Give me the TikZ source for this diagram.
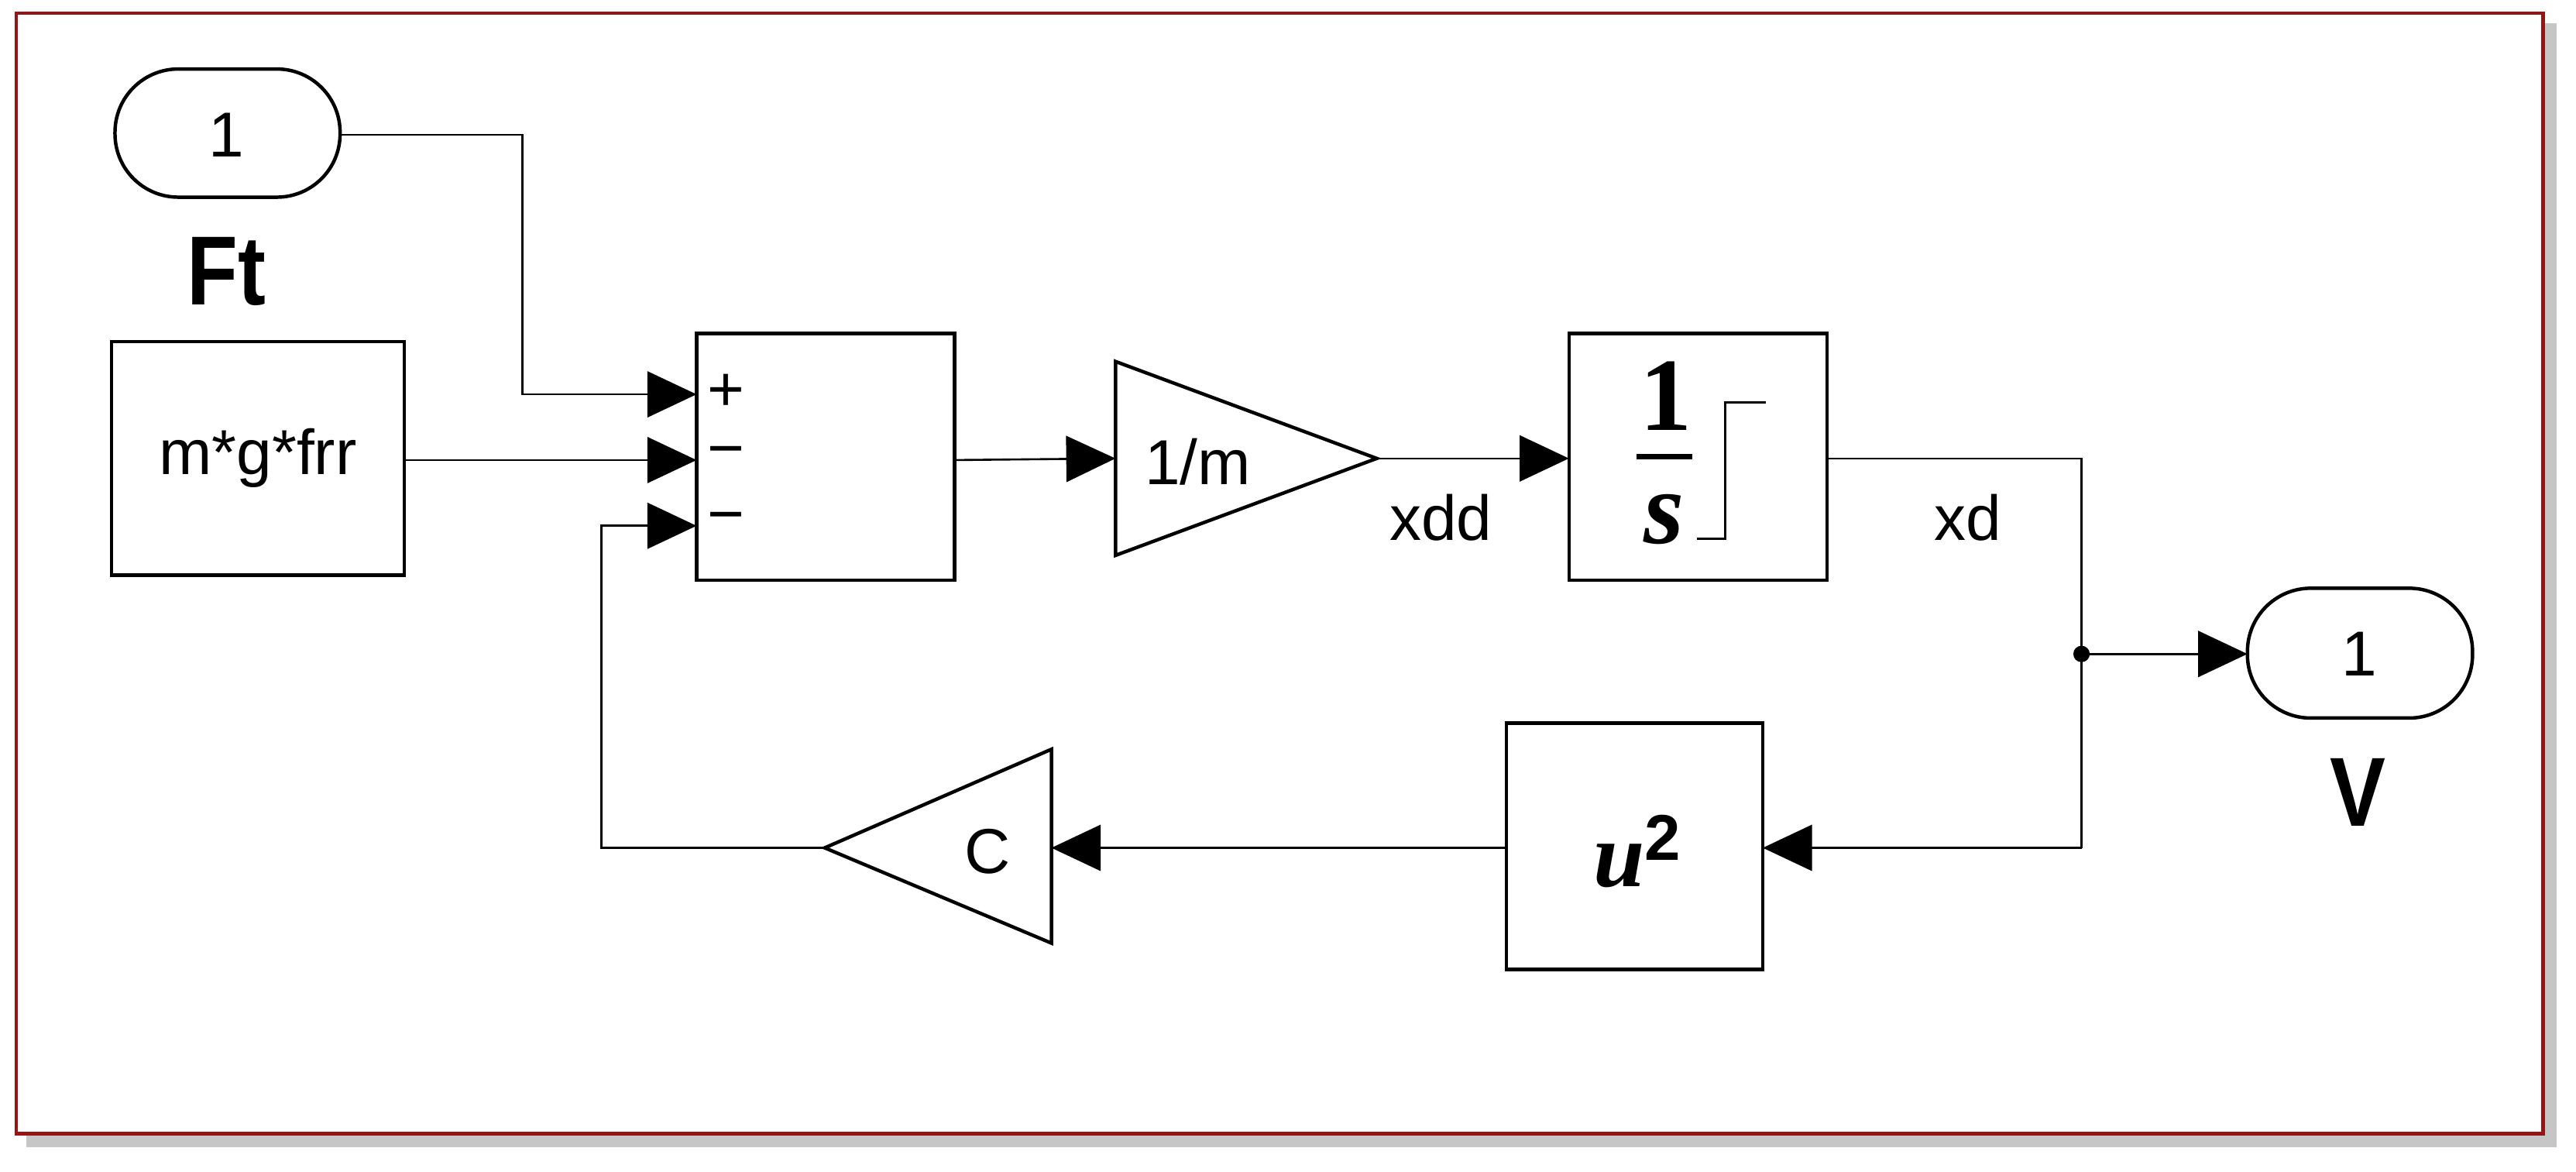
\documentclass[tikz,border=0pt]{standalone}
\usepackage{fontspec}
\setmainfont{Liberation Sans}
\newfontfamily\serifF{Liberation Serif}
\usetikzlibrary{arrows.meta}
\definecolor{frame}{RGB}{150,20,20}
\begin{document}
\begin{tikzpicture}[x=0.02cm,y=-0.02cm,
  blk/.style={draw,line width=1.2pt,inner sep=0},
  pill/.style={draw,line width=1.2pt,rounded corners=0.77cm},
  txt/.style={font=\fontsize{22}{26}\selectfont},
  big/.style={font=\fontsize{34}{38}\selectfont\bfseries},
  sig/.style={line width=0.7pt,-{Triangle[length=0.6cm,width=0.56cm]}},
  wire/.style={line width=0.7pt}]
\useasboundingbox (0,0) rectangle (1568,713);
\fill[white] (0,0) rectangle (1568,713);
% frame with shadow
\fill[gray!45] (16,14) rectangle (1556,698);
\draw[frame,fill=white,line width=1.2pt] (10,8) rectangle (1548,690);
% inport
\draw[pill] (70,42) rectangle (207,120);
\node[txt] (in1) at (138,82) {1};
\coordinate (in1r) at (207,82);
\node[big,xscale=0.85] (ft) at (138,165) {Ft};
% constant
\draw[blk] (68,208) rectangle (246,350);
\node[txt] (const) at (157,279) {m*g*frr};
\coordinate (constr) at (246,280);
% sum
\draw[blk] (424,203) rectangle (581,353);
\coordinate (s1) at (424,240);
\coordinate (s2) at (424,280);
\coordinate (s3) at (424,320);
\coordinate (sr) at (581,280);
\node[txt] (p1) at (442,239) {+};
\node[txt] (p2) at (442,279) {\textminus};
\node[txt] (p3) at (442,319) {\textminus};
% gain 1/m
\draw[line width=1.2pt] (679,220) -- (838,279) -- (679,338) -- cycle;
\node[txt] (g1) at (729,281) {1/m};
\coordinate (g1l) at (679,279);
\coordinate (g1r) at (838,279);
\node[txt] (xdd) at (877,315) {xdd};
% integrator
\draw[blk] (955,203) rectangle (1112,353);
\coordinate (il) at (955,279);
\coordinate (ir) at (1112,279);
\node[font=\serifF\fontsize{36}{38}\selectfont\bfseries] (one) at (1014,241) {1};
\draw[line width=1.8pt] (996,278) -- (1030,278);
\node[font=\serifF\fontsize{36}{38}\selectfont\bfseries\itshape] (s) at (1013,316) {s};
\draw[line width=0.7pt] (1033,328) -- (1050,328) -- (1050,245) -- (1075,245);
\node[txt] (xd) at (1198,315) {xd};
% branch
\coordinate (c1) at (1267,279);
\coordinate (br) at (1267,398);
\coordinate (c2) at (1267,516);
\fill (br) circle (5);
% outport
\draw[pill] (1368,358) rectangle (1505,437);
\node[txt] (out1) at (1436,398) {1};
\coordinate (outl) at (1368,398);
\node[big,xscale=0.85] (v) at (1435,482) {V};
% u^2
\draw[blk] (917,440) rectangle (1073,590);
\node[font=\serifF\fontsize{32}{34}\selectfont\bfseries\itshape] (u2) at (997,518) {u$^{\mathbf 2}$};
\coordinate (ur) at (1073,516);
\coordinate (ul) at (917,516);
% gain C
\draw[line width=1.2pt] (640,456) -- (502,516) -- (640,574) -- cycle;
\node[txt] (gc) at (601,518) {C};
\coordinate (gcr) at (640,516);
\coordinate (gcl) at (502,516);
% wires
\draw[sig] (in1r) -- (318,82) -- (318,240) -- (s1);
\draw[sig] (constr) -- (s2);
\draw[sig] (sr) -- (g1l);
\draw[sig] (g1r) -- (il);
\draw[wire] (ir) -- (c1) -- (c2);
\draw[sig] (br) -- (outl);
\draw[sig] (c2) -- (ur);
\draw[sig] (ul) -- (gcr);
\draw[sig] (gcl) -- (366,516) -- (366,320) -- (s3);
\end{tikzpicture}
\end{document}
